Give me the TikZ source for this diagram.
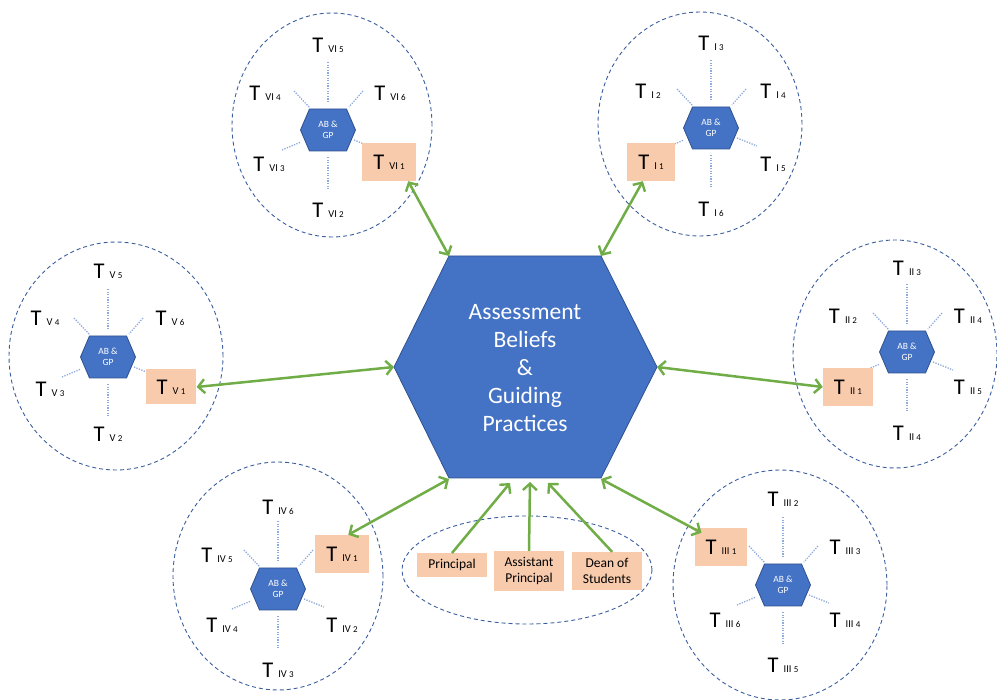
\documentclass[tikz,border=0pt]{standalone}
\usepackage{fontspec}
\setmainfont{Carlito}
\usetikzlibrary{arrows.meta,calc}
\definecolor{hexblue}{HTML}{4472C4}
\definecolor{hexedge}{HTML}{2F528F}
\definecolor{peach}{HTML}{F8CBAD}
\definecolor{arrgreen}{HTML}{70AD47}
\definecolor{ringblue}{HTML}{3B5E9E}
\definecolor{spokeblue}{HTML}{8FAADC}
\newcommand\tlab[2]{{\fontsize{22.5}{24}\selectfont T }{\fontsize{10.5}{11}\selectfont #1\hspace{2.2pt}{\fontsize{9}{9}\selectfont #2}}}
\newcommand\clusterbase[1]{%
  \draw[spoke] (0,-68) -- (0,-28);
  \draw[spoke] (0,27) -- (0,60);
  \draw[spoke] (-34,-39) -- (-18,-22);
  \draw[spoke] (35,-39) -- (21,-23);
  \draw[spoke] (-46,20) -- (-27,12);
  \draw[spoke] (26,10) -- (46,18);
  \draw[hexline] (-27.5,0) -- (-18.5,-21) -- (18.5,-21) -- (27.5,0) -- (18.5,21) -- (-18.5,21) -- cycle;
  \node[abgp] (#1) at (0,0) {AB \&\\GP};}
\tikzset{
  x=1pt, y=-1pt,
  hexline/.style={fill=hexblue, draw=hexedge, line width=0.8pt},
  abgp/.style={text=white, font=\fontsize{9.5}{10.5}\selectfont, align=center, inner sep=0pt},
  spoke/.style={draw=spokeblue, line width=1.3pt, dash pattern=on 1.3pt off 1.3pt},
  ring/.style={draw=ringblue, line width=0.9pt, dash pattern=on 4pt off 3pt},
  tl/.style={inner sep=0pt},
  tbox/.style={fill=peach, inner xsep=11pt, inner ysep=0pt, minimum height=38pt},
  staff/.style={fill=peach, inner xsep=11pt, inner ysep=6pt, align=center, font=\fontsize{13.5}{16.5}\selectfont},
  arrhead/.tip={Straight Barb[length=6.5pt, width=14pt, line width=2.4pt]},
  arr/.style={draw=arrgreen, line width=2.5pt, arrhead-arrhead},
  arrone/.style={draw=arrgreen, line width=2.5pt, -arrhead}
}
\begin{document}
\begin{tikzpicture}
\useasboundingbox (0,0) rectangle (997,700);
% rings
\draw[ring] (332,125) ellipse [x radius=100pt, y radius=112pt];
\draw[ring] (700,124) ellipse [x radius=102pt, y radius=112pt];
\draw[ring] (116,356) ellipse [x radius=107pt, y radius=114pt];
\draw[ring] (895,354) ellipse [x radius=102pt, y radius=114pt];
\draw[ring] (278,576) ellipse [x radius=105pt, y radius=114pt];
\draw[ring] (780,585) ellipse [x radius=107pt, y radius=115pt];
\draw[ring] (527,570) ellipse [x radius=125pt, y radius=54pt];
% central hexagon
\draw[hexline] (394,367) -- (449,256) -- (601,256) -- (657,367) -- (601,478) -- (449,478) -- cycle;
\node[text=white, align=center, font=\fontsize{23.5}{28}\selectfont] (core) at (525,368) {Assessment\\Beliefs\\\&\\Guiding\\Practices};
\coordinate (cTL) at (449,256);
\coordinate (cTR) at (601,256);
\coordinate (cL) at (394,367);
\coordinate (cR) at (657,367);
\coordinate (cBL) at (449,479);
\coordinate (cBR) at (601,479);
\coordinate (sP) at (510,483);
\coordinate (sA) at (530,482);
\coordinate (sD) at (548,483);
% cluster VI
\begin{scope}[shift={(328,130)}]
\clusterbase{hxVI}
\node[tl] (vi5) at (0,-85) {\tlab{VI}{5}};
\node[tl] (vi4) at (-63,-37) {\tlab{VI}{4}};
\node[tl] (vi6) at (62,-37) {\tlab{VI}{6}};
\node[tl] (vi3) at (-59,34) {\tlab{VI}{3}};
\node[tbox] (vi1) at (61,32) {\tlab{VI}{1}};
\node[tl] (vi2) at (0,80) {\tlab{VI}{2}};
\end{scope}
% cluster I
\begin{scope}[shift={(711,128)}]
\clusterbase{hxI}
\node[tl] (i3) at (0,-85) {\tlab{I}{3}};
\node[tl] (i2) at (-63,-37) {\tlab{I}{2}};
\node[tl] (i4) at (62,-37) {\tlab{I}{4}};
\node[tbox] (i1) at (-60,34) {\tlab{I}{1}};
\node[tl] (i5) at (62,36) {\tlab{I}{5}};
\node[tl] (i6) at (0,81) {\tlab{I}{6}};
\end{scope}
% cluster V
\begin{scope}[shift={(108,357)}]
\clusterbase{hxV}
\node[tl] (v5) at (0,-86) {\tlab{V}{5}};
\node[tl] (v4) at (-63,-39) {\tlab{V}{4}};
\node[tl] (v6) at (62,-39) {\tlab{V}{6}};
\node[tl] (v3) at (-58,32) {\tlab{V}{3}};
\node[tbox, minimum height=35pt] (v1) at (63,30) {\tlab{V}{1}};
\node[tl] (v2) at (0,77) {\tlab{V}{2}};
\end{scope}
% cluster II
\begin{scope}[shift={(907,352)}]
\clusterbase{hxII}
\node[tl] (ii3) at (0,-84) {\tlab{II}{3}};
\node[tl] (ii2) at (-64,-36) {\tlab{II}{2}};
\node[tl] (ii4) at (61,-36) {\tlab{II}{4}};
\node[tbox] (ii1) at (-59,35) {\tlab{II}{1}};
\node[tl] (ii5) at (61,35) {\tlab{II}{5}};
\node[tl] (ii4b) at (0,81) {\tlab{II}{4}};
\end{scope}
% cluster IV
\begin{scope}[shift={(278,589)}]
\clusterbase{hxIV}
\node[tl] (iv6) at (0,-82) {\tlab{IV}{6}};
\node[tl] (iv5) at (-61,-34) {\tlab{IV}{5}};
\node[tbox] (iv1) at (64,-35) {\tlab{IV}{1}};
\node[tl] (iv4) at (-56,36) {\tlab{IV}{4}};
\node[tl] (iv2) at (64,36) {\tlab{IV}{2}};
\node[tl] (iv3) at (0,81) {\tlab{IV}{3}};
\end{scope}
% cluster III
\begin{scope}[shift={(783,585)}]
\clusterbase{hxIII}
\node[tl] (iii2) at (0,-86) {\tlab{III}{2}};
\node[tbox] (iii1) at (-62,-38) {\tlab{III}{1}};
\node[tl] (iii3) at (62,-38) {\tlab{III}{3}};
\node[tl] (iii6) at (-58,35) {\tlab{III}{6}};
\node[tl] (iii4) at (62,35) {\tlab{III}{4}};
\node[tl] (iii5) at (0,80) {\tlab{III}{5}};
\end{scope}
% staff
\node[staff] (principal) at (452,565) {Principal};
\node[staff] (assistant) at (529,571) {Assistant\\Principal};
\node[staff] (dean) at (607,571) {Dean of\\Students};
% connectors
\draw[arr] (vi1.-45) -- (cTL);
\draw[arr] (i1.-113) -- (cTR);
\draw[arr] (v1.east) -- (cL);
\draw[arr] (ii1.west) -- (cR);
\draw[arr] (iv1.72) -- (cBL);
\draw[arr] ([shift={(7,5)}]iii1.north west) -- (cBR);
\draw[arrone] (principal.north) -- (sP);
\draw[arrone] (assistant.north) -- (sA);
\draw[arrone] (dean.75) -- (sD);
\end{tikzpicture}
\end{document}
